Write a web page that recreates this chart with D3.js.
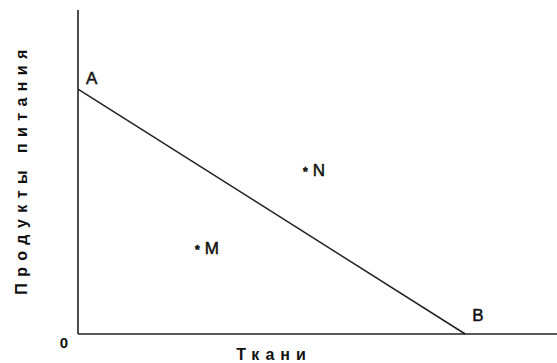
<!DOCTYPE html>
<html><head><meta charset="utf-8">
<script src="https://cdn.jsdelivr.net/npm/d3@7"></script>
<style>body{margin:0;background:#fff}svg{display:block}</style>
</head><body>
<script>
// Budget line endpoints (abstract units)
const lineLabels = ["A", "B"];
const lineX = [0, 8.1];
const lineY = [7.56, 0];
// Points
const pointLabels = ["M", "N"];
const pointX = [2.51, 4.77];
const pointY = [2.81, 5.22];
const xTitle = "Ткани";
const yTitle = "Продукты питания";
const originLabel = "0";

const W = 557, H = 363;
const svg = d3.select("body").append("svg").attr("width", W).attr("height", H);
const x = d3.scaleLinear().domain([0, 10]).range([78, 556]);
const y = d3.scaleLinear().domain([0, 10]).range([334, 10]);
const font = "Arial, 'Liberation Sans', sans-serif";

// axes
svg.append("line").attr("x1", x(0)).attr("x2", x(0)).attr("y1", y(10)).attr("y2", y(0))
  .attr("stroke", "#222").attr("stroke-width", 1.6);
svg.append("line").attr("x1", x(0)).attr("x2", W).attr("y1", y(0)).attr("y2", y(0))
  .attr("stroke", "#222").attr("stroke-width", 1.6);

// budget line
svg.append("line").attr("x1", x(lineX[0])).attr("y1", y(lineY[0]))
  .attr("x2", x(lineX[1])).attr("y2", y(lineY[1]))
  .attr("stroke", "#222").attr("stroke-width", 1.5);

function label(sel) {
  return sel.attr("font-family", font).attr("font-size", 17).attr("fill", "#111")
    .attr("stroke", "#111").attr("stroke-width", 0.5);
}

// A / B labels
label(svg.append("text")).attr("x", x(lineX[0]) + 8).attr("y", y(lineY[0]) - 5).text(lineLabels[0]);
label(svg.append("text")).attr("x", x(lineX[1]) + 7).attr("y", y(lineY[1]) - 13).text(lineLabels[1]);

// points
pointLabels.forEach((lab, i) => {
  const t = label(svg.append("text")).attr("x", x(pointX[i]) - 3).attr("y", y(pointY[i]) + 11);
  t.append("tspan").attr("font-size", 12).attr("font-weight", "bold").text("*");
  t.append("tspan").attr("dx", 5).text(lab);
});

// origin
svg.append("text").attr("x", 64).attr("y", 348).attr("text-anchor", "middle")
  .attr("font-family", font).attr("font-size", 15).attr("font-weight", "bold").attr("fill", "#111").text(originLabel);

// axis titles
svg.append("text").attr("x", 274).attr("y", 359.5).attr("text-anchor", "middle")
  .attr("font-family", font).attr("font-size", 16).attr("font-weight", "bold")
  .attr("letter-spacing", 6).attr("fill", "#111").text(xTitle);
svg.append("text").attr("transform", "translate(27,169) rotate(-90)").attr("text-anchor", "middle")
  .attr("font-family", font).attr("font-size", 16).attr("font-weight", "bold")
  .attr("letter-spacing", 6.4).attr("fill", "#111").text(yTitle);
</script>
</body></html>
